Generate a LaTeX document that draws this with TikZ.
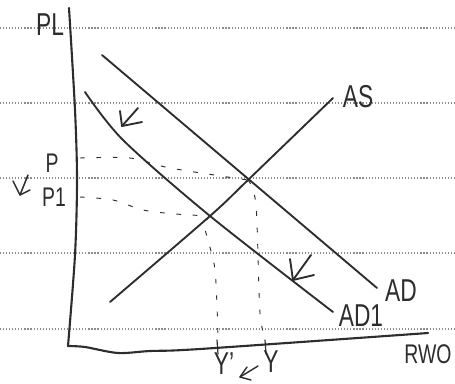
\documentclass[tikz,border=0pt]{standalone}
\usepackage{graphicx}
\usepackage{fontspec}
\setsansfont{Liberation Sans}
\usetikzlibrary{arrows.meta}
\definecolor{Pencil}{RGB}{45,45,45}
\definecolor{RuleGray}{RGB}{140,140,140}
\newcommand{\hand}[1]{\scalebox{.72}[1]{#1}}

\begin{document}
\begin{tikzpicture}[x=0.03cm,y=-0.03cm,
    curve/.style={Pencil,line width=1.6pt,line cap=round,line join=round},
    axisline/.style={Pencil,line width=1.8pt,line cap=round,line join=round},
    ruled/.style={RuleGray,line width=1pt,dash pattern=on 1pt off 1.6pt},
    guide/.style={Pencil,line width=.8pt,dash pattern=on 4pt off 10pt},
    lbl/.style={Pencil,inner sep=0pt,font=\sffamily\fontsize{27}{27}\selectfont},
    small/.style={Pencil,inner sep=0pt,font=\sffamily\fontsize{23}{23}\selectfont}]
  \useasboundingbox (0,0) rectangle (455,383);
  % lined paper
  \foreach \y in {28,103,178,253,329}
    \draw[ruled] (0,\y) -- (455,\y);
  % axes
  \draw[axisline] plot[smooth] coordinates {(69,8) (75,110) (77,180) (75,255) (68,346)};
  \draw[axisline] plot[smooth] coordinates {(68,346) (85,347) (118,353) (150,351) (200,349) (428,333)};
  % curves
  \draw[curve] (102,55) -- (377,288);
  \draw[curve] plot[smooth] coordinates {(85,92) (123,140) (210,216) (333,312)};
  \draw[curve] plot[smooth] coordinates {(110,302) (210,216) (248,180) (333,98)};
  % equilibrium guides
  \coordinate (E) at (248,180);
  \coordinate (E1) at (210,216);
  \draw[guide] plot[smooth] coordinates {(80,158) (130,158) (170,168) (E)};
  \draw[guide] plot[smooth] coordinates {(80,197) (113,200) (143,210) (176,214) (E1)};
  \draw[guide] plot[smooth] coordinates {(E) (256,205) (260,313) (266,340)};
  \draw[guide] plot[smooth] coordinates {(E1) (205,228) (215,270) (218,340)};
  \draw[curve,line width=1pt] (217,340) -- (218,354);
  \draw[curve,line width=1pt] (265,340) -- (266,354);
  % shift arrows
  \draw[curve] (138,108) -- (122,126);
  \draw[curve] (120,111) -- (122,126) -- (142,122);
  \draw[curve] (311,255) -- (293,280);
  \draw[curve] (290,259) -- (293,280) -- (314,275);
  \draw[curve,line width=1.2pt] (258,366) -- (240,377);
  \draw[curve,line width=1.2pt] (247,367) -- (240,377) -- (251,380);
  \draw[curve,line width=1.3pt] (28,175) -- (20,195);
  \draw[curve,line width=1.3pt] (13,181) -- (20,195) -- (30,190);
  % labels
  \node[lbl] (pl) at (50,25) {\hand{PL}};
  \node[lbl] (as) at (358,97) {\hand{AS}};
  \node[lbl] (ad) at (401,291) {\hand{AD}};
  \node[lbl] (adone) at (361,316) {\hand{AD1}};
  \node[small] (rwo) at (428,354) {\hand{RWO}};
  \node[small] (p) at (52,163) {\hand{P}};
  \node[small] (pone) at (54,197) {\hand{P1}};
  \node[lbl] (yone) at (224,364) {\hand{Y'}};
  \node[lbl] (y) at (271,362) {\hand{Y}};
\end{tikzpicture}
\end{document}
